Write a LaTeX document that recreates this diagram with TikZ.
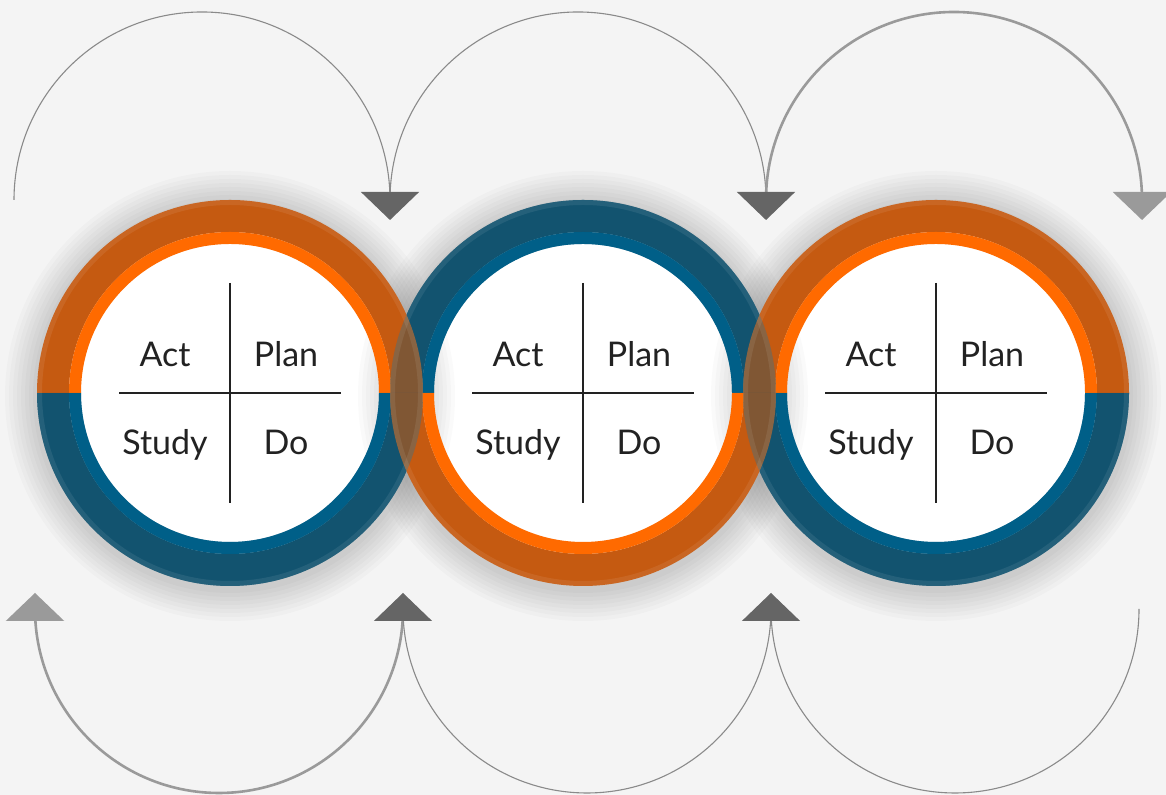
\documentclass[tikz,border=0pt]{standalone}
\usepackage{fontspec}
\setmainfont{Lato}
\usetikzlibrary{calc, arrows.meta}

\definecolor{paper}{HTML}{F4F4F4}
\definecolor{orangedark}{HTML}{C55A11}
\definecolor{orangelight}{HTML}{FF6A00}
\definecolor{bluedark}{HTML}{12536F}
\definecolor{bluelight}{HTML}{005F88}
\definecolor{arcgray}{HTML}{8A8A8A}
\definecolor{tipdark}{HTML}{656565}
\definecolor{tiplight}{HTML}{9A9A9A}
\definecolor{ink}{HTML}{222222}

% half ring: #1 centre, #2 start angle, #3 outer band, #4 inner band
\newcommand{\halfring}[4]{%
  \fill[#3] ($(#1)+(#2:193)$) arc[start angle=#2, delta angle=180, radius=193]
    -- ($(#1)+(#2+180:161)$) arc[start angle=#2+180, delta angle=-180, radius=161] -- cycle;
  \fill[#4] ($(#1)+(#2:161)$) arc[start angle=#2, delta angle=180, radius=161]
    -- ($(#1)+(#2+180:149)$) arc[start angle=#2+180, delta angle=-180, radius=149] -- cycle;
}

\begin{document}
\begin{tikzpicture}[x=0.5pt, y=0.5pt,
  arcthin/.style={arcgray, line width=0.55pt},
  arcbold/.style={draw=tiplight, line width=1.3pt},
  headdark/.style={-{Triangle[length=14pt, width=29pt, color=tipdark]}},
  headlight/.style={-{Triangle[length=14pt, width=29pt, color=tiplight]}},
  quad/.style={ink, line width=0.7pt},
  word/.style={ink, font=\fontsize{17}{20}\selectfont, anchor=base, inner sep=0pt}]

  \useasboundingbox (0,0) rectangle (1166,795);
  \fill[paper] (0,0) rectangle (1166,795);

  % ring centres
  \foreach \n/\x in {r1/230, r2/583, r3/936}
    \coordinate (\n) at (\x,402);

  % white faces
  \foreach \n in {r1,r2,r3}
    \fill[white] (\n) circle[radius=149];

  % soft shadows
  \foreach \n in {r1,r2,r3}
    \foreach \k in {1,...,8}
      \fill[black, opacity=0.02, even odd rule]
        ($(\n)+(0,-3)$) circle[radius=186] ($(\n)+(0,-3)$) circle[radius=193+4*\k];

  % blue halves first, orange halves over them
  \halfring{r1}{180}{bluedark}{bluelight}
  \halfring{r2}{0}{bluedark}{bluelight}
  \halfring{r3}{180}{bluedark}{bluelight}
  \halfring{r1}{0}{orangedark}{orangelight}
  \halfring{r2}{180}{orangedark}{orangelight}
  \halfring{r3}{0}{orangedark}{orangelight}
  % blue showing through where the bands cross
  \begin{scope}[opacity=0.38]
    \halfring{r1}{180}{bluedark}{bluelight}
    \halfring{r2}{0}{bluedark}{bluelight}
    \halfring{r3}{180}{bluedark}{bluelight}
  \end{scope}

  \foreach \n in {r1,r2,r3} {
    \draw[white, opacity=0.08, line width=2.5pt] (\n) circle[radius=190.5];
    % quadrants
    \draw[quad] ($(\n)+(0,110)$) -- ($(\n)+(0,-110)$);
    \draw[quad] ($(\n)+(-111,0)$) -- ($(\n)+(111,0)$);
    \node[word] (\n-act) at ($(\n)+(-65,26)$) {Act};
    \node[word] (\n-plan) at ($(\n)+(56,26)$) {Plan};
    \node[word] (\n-study) at ($(\n)+(-65,-62)$) {Study};
    \node[word] (\n-do) at ($(\n)+(56,-62)$) {Do};
  }

  % arc ends and arrow tips
  \foreach \i/\x in {0/14, 1/390, 2/766, 3/1142} {
    \coordinate (t\i) at (\x,595);
    \coordinate (t\i tip) at (\x,575);
  }
  \foreach \i/\x in {0/35, 1/403, 2/771, 3/1139} {
    \coordinate (b\i) at (\x,186);
    \coordinate (b\i tip) at (\x,202);
  }

  % arcs over the top
  \draw[arcthin] (t0) arc[start angle=180, end angle=0, radius=188];
  \draw[arcthin] (t1) arc[start angle=180, end angle=0, radius=188];
  \draw[arcbold] (t2) arc[start angle=180, end angle=0, radius=188];
  \draw[arcthin, headdark] (t1) -- (t1tip);
  \draw[arcthin, headdark] (t2) -- (t2tip);
  \draw[arcbold, headlight] (t3) -- (t3tip);

  % arcs underneath
  \draw[arcbold] (b0) arc[start angle=180, end angle=360, radius=184];
  \draw[arcthin] (b1) arc[start angle=180, end angle=360, radius=184];
  \draw[arcthin] (b2) arc[start angle=180, end angle=360, radius=184];
  \draw[arcbold, headlight] (b0) -- (b0tip);
  \draw[arcthin, headdark] (b1) -- (b1tip);
  \draw[arcthin, headdark] (b2) -- (b2tip);
\end{tikzpicture}
\end{document}
